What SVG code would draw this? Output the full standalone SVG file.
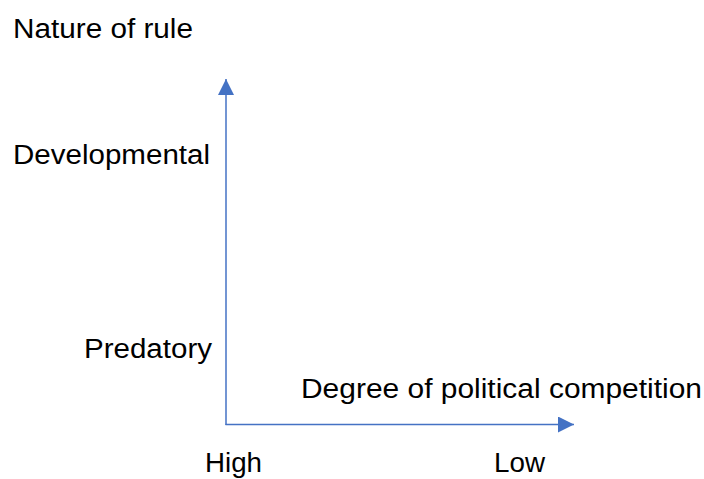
<svg xmlns="http://www.w3.org/2000/svg" width="704" height="479" viewBox="0 0 704 479">
<style>
text{font-family:"Liberation Sans",Arial,sans-serif;font-size:27px;fill:#000}
.ax{stroke:#4472C4;stroke-width:1.5;fill:none}
</style>
<defs>
<marker id="ah" viewBox="0 0 10 10" refX="10" refY="5" markerWidth="16" markerHeight="16" markerUnits="userSpaceOnUse" orient="auto">
<path d="M0,0 L10,5 L0,10 Z" fill="#4472C4"/>
</marker>
</defs>
<rect width="704" height="479" fill="#fff"/>
<g id="connectors">
<line class="ax" x1="226" y1="425" x2="226" y2="79" marker-end="url(#ah)"/>
<line class="ax" x1="225.5" y1="424.5" x2="574" y2="424.5" marker-end="url(#ah)"/>
</g>
<g id="labels">
<text x="13" y="38" textLength="180" lengthAdjust="spacingAndGlyphs">Nature of rule</text>
<text x="13" y="164" textLength="197" lengthAdjust="spacingAndGlyphs">Developmental</text>
<text x="84" y="358" textLength="128" lengthAdjust="spacingAndGlyphs">Predatory</text>
<text x="301" y="398" textLength="401" lengthAdjust="spacingAndGlyphs">Degree of political competition</text>
<text x="205" y="472" textLength="57" lengthAdjust="spacingAndGlyphs">High</text>
<text x="494" y="472" textLength="51" lengthAdjust="spacingAndGlyphs">Low</text>
</g>
</svg>
